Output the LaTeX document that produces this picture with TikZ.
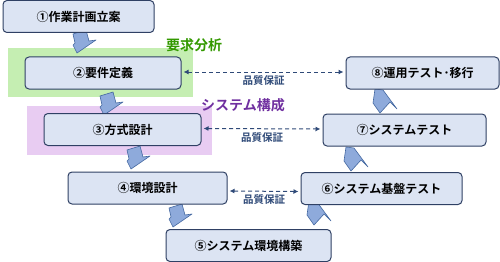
\documentclass[tikz,border=0pt]{standalone}
\usepackage{fontspec}
\setmainfont{Noto Sans CJK JP}[BoldFont={Noto Sans CJK JP Bold}]
\usetikzlibrary{arrows.meta}
\definecolor{boxfill}{RGB}{220,228,243}
\definecolor{boxline}{RGB}{47,64,100}
\definecolor{arrfill}{RGB}{142,170,219}
\definecolor{arrline}{RGB}{68,104,160}
\definecolor{zonegreen}{RGB}{197,238,178}
\definecolor{taggreen}{RGB}{51,153,0}
\definecolor{zonepurple}{RGB}{232,204,242}
\definecolor{tagpurple}{RGB}{112,48,160}
\definecolor{qaline}{RGB}{47,74,120}

\begin{document}
\begin{tikzpicture}[x=1pt,y=-1pt,
    stage/.style={draw=boxline,line width=1pt,rounded corners=4pt,fill=boxfill,
      font=\bfseries\fontsize{12}{14}\selectfont,minimum height=32pt,inner sep=0pt},
    zone/.style={draw=none,minimum width=185pt,minimum height=49pt,inner sep=0pt},
    tag/.style={font=\bfseries\fontsize{14}{16}\selectfont},
    qa/.style={{Latex[length=5pt,width=5pt]}-{Latex[length=5pt,width=5pt]},qaline,
      line width=1pt,dash pattern=on 4pt off 3pt,shorten <=2pt,shorten >=2pt},
    qlabel/.style={font=\bfseries\fontsize{10.5}{12}\selectfont,below=2pt,inner sep=1pt},
    blk/.style={fill=arrfill,draw=arrline,line width=0.6pt,line join=round}
  ]
    \useasboundingbox (0,0) rectangle (500,262);
    % zones
    \node[zone,fill=zonegreen] (z1) at (100.5,72.5) {};
    \node[zone,fill=zonepurple] (z2) at (119.5,130.5) {};
    \node[tag,text=taggreen] (t1) at (194,45) {要求分析};
    % block arrows
    \foreach \p in {(77,53),(104,115),(131,169),(173,227)}
      \draw[blk,shift={\p}] (-4,-19) -- (9,-23) -- (12,-12) -- (19,-13) -- (0,0)
        -- (-4,-8) -- (-2,-10) -- cycle;
    \foreach \p in {(307,215),(344,161),(373,103)}
      \draw[blk,shift={\p}] (0,0) -- (7,10) -- (17,-1) -- (24,6) -- (10,-13)
        -- (2,-14) -- cycle;
    % stages
    \node[stage,minimum width=151pt] (s1) at (78.5,16.5) {①作業計画立案};
    \node[stage,minimum width=156pt] (s2) at (103,73) {②要件定義};
    \node[stage,minimum width=157pt] (s3) at (122.5,129.5) {③方式設計};
    \node[stage,minimum width=159pt] (s4) at (147.5,188) {④環境設計};
    \node[stage,minimum width=165pt] (s5) at (248.5,245.5) {⑤システム環境構築};
    \node[stage,minimum width=161pt] (s6) at (381.5,188.5) {⑥システム基盤テスト};
    \node[stage,minimum width=163pt] (s7) at (404.5,130) {⑦システムテスト};
    \node[stage,minimum width=153pt] (s8) at (422.5,73) {⑧運用テスト･移行};
    \node[tag,text=tagpurple] (t2) at (243,105) {システム構成};
    % quality links
    \draw[qa] ([yshift=1pt]s2.east) -- node[qlabel] (q1) {品質保証} ([yshift=1pt]s8.west);
    \draw[qa] ([yshift=1pt]s3.east) -- node[qlabel] (q2) {品質保証} ([yshift=1pt]s7.west);
    \draw[qa] ([yshift=-3pt]s4.east) -- node[qlabel] (q3) {品質保証} ([yshift=-3pt]s6.west);
  \end{tikzpicture}
\end{document}
